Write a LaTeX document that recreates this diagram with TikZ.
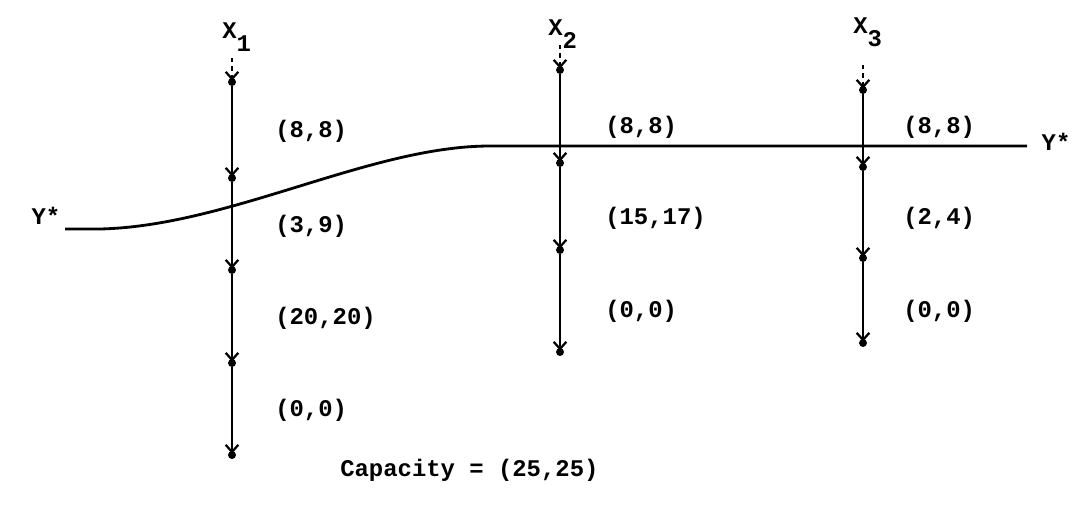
\documentclass[tikz,border=0pt]{standalone}
\usepackage{fontspec}
\setmonofont{Liberation Mono}
\usetikzlibrary{positioning, arrows.meta}

\newcommand{\xsub}[1]{X\raisebox{-0.58em}{#1}}

\begin{document}
\begin{tikzpicture}[
    x=0.025cm, y=-0.025cm,
    >={Straight Barb[length=5pt,width=9pt,line width=1.6pt]},
    dot/.style={circle, fill, inner sep=2pt},
    flow/.style={->, line width=2pt, shorten >=-2pt},
    stub/.style={flow, dash pattern=on 3pt off 3pt},
    txt/.style={font=\ttfamily\bfseries\fontsize{17}{20}\selectfont, inner sep=0pt},
    lbl/.style={txt, anchor=west},
    var/.style={txt, anchor=base west},
    curve/.style={line width=2pt}
]
\useasboundingbox (0,0) rectangle (1078,508);

% first activity
\node[var] (x1) at (222,38) {\xsub{1}};
\coordinate (a0) at (232,58);
\node[dot] (a1) at (232,82) {};
\node[dot] (a2) at (232,178) {};
\node[dot] (a3) at (232,270) {};
\node[dot] (a4) at (232,363) {};
\node[dot] (a5) at (232,455) {};
\draw[stub] (a0) -- (a1);
\draw[flow] (a1) -- (a2);
\draw[flow] (a2) -- (a3);
\draw[flow] (a3) -- (a4);
\draw[flow] (a4) -- (a5);
\node[lbl] (a12) at (275,131) {(8,8)};
\node[lbl] (a23) at (275,226) {(3,9)};
\node[lbl] (a34) at (275,318) {(20,20)};
\node[lbl] (a45) at (275,410) {(0,0)};

% second activity
\node[var] (x2) at (548,35) {\xsub{2}};
\coordinate (b0) at (560,45);
\node[dot] (b1) at (560,70) {};
\node[dot] (b2) at (560,163) {};
\node[dot] (b3) at (560,250) {};
\node[dot] (b4) at (560,352) {};
\draw[stub] (b0) -- (b1);
\draw[flow] (b1) -- (b2);
\draw[flow] (b2) -- (b3);
\draw[flow] (b3) -- (b4);
\node[lbl] (b12) at (605,127) {(8,8)};
\node[lbl] (b23) at (605,218) {(15,17)};
\node[lbl] (b34) at (605,311) {(0,0)};

% third activity
\node[var] (x3) at (853,33) {\xsub{3}};
\coordinate (c0) at (863,65);
\node[dot] (c1) at (863,90) {};
\node[dot] (c2) at (863,167) {};
\node[dot] (c3) at (863,258) {};
\node[dot] (c4) at (863,343) {};
\draw[stub] (c0) -- (c1);
\draw[flow] (c1) -- (c2);
\draw[flow] (c2) -- (c3);
\draw[flow] (c3) -- (c4);
\node[lbl] (c12) at (903,127) {(8,8)};
\node[lbl] (c23) at (903,218) {(2,4)};
\node[lbl] (c34) at (903,311) {(0,0)};

% Y* profile
\node[txt] (yl) at (46,216) {Y*};
\node[txt] (yr) at (1056,142) {Y*};
\coordinate (ys) at (65,229);
\coordinate (ye) at (1027,146);
\draw[curve] (ys) -- (100,229) .. controls (230,226) and (370,146) .. (490,146) -- (ye);

\node[lbl] (cap) at (340,470) {Capacity = (25,25)};
\end{tikzpicture}
\end{document}
